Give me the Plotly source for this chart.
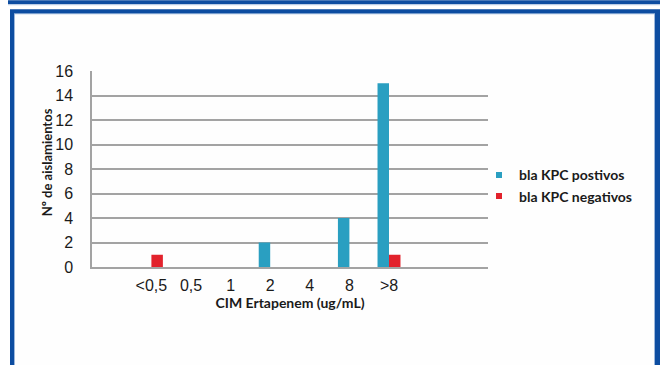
import plotly.graph_objects as go

# MIC categories (ug/mL) and isolate counts per category
cim_labels = ["<0,5", "0,5", "1", "2", "4", "8", ">8"]
kpc_positivos = [0, 0, 0, 2, 0, 4, 15]
kpc_negativos = [1, 0, 0, 0, 0, 0, 1]
y_ticks = [0, 2, 4, 6, 8, 10, 12, 14, 16]

# category slots: one empty slot before and two after the labelled ones
x_pos = [i + 1 for i in range(len(cim_labels))]

BLUE = "#2a9fc1"
RED = "#e2222c"
FRAME = "#0d4da1"
TEXT = "#1a1a1a"

W, H = 664, 365
L, R, T, B = 92, 176, 70.7, 98.3
PW, PH = W - L - R, H - T - B


def px(x):
    return (x - L) / PW


def py(y):
    return (H - B - y) / PH


fig = go.Figure()
fig.add_trace(go.Bar(x=x_pos, y=kpc_positivos, marker_color=BLUE,
                     marker_line_width=0, showlegend=False))
fig.add_trace(go.Bar(x=x_pos, y=kpc_negativos, marker_color=RED,
                     marker_line_width=0, showlegend=False))
# small square legend keys
fig.add_trace(go.Scatter(x=[None], y=[None], mode="markers", name="bla KPC postivos",
                         marker=dict(symbol="square", size=6, color=BLUE)))
fig.add_trace(go.Scatter(x=[None], y=[None], mode="markers", name="bla KPC negativos",
                         marker=dict(symbol="square", size=6, color=RED)))

shapes = [
    # top band
    dict(type="rect", x0=px(8), x1=px(660), y0=py(0), y1=py(4), fillcolor=FRAME),
    dict(type="rect", x0=px(8), x1=px(660), y0=py(4), y1=py(5), fillcolor="#b7cbe6"),
    # frame
    dict(type="rect", x0=px(10), x1=px(660), y0=py(9), y1=py(380), fillcolor=FRAME),
    dict(type="rect", x0=px(14), x1=px(655), y0=py(13), y1=py(380), fillcolor="#9db8dc"),
    dict(type="rect", x0=px(15), x1=px(654), y0=py(14), y1=py(380), fillcolor="#fefefe"),
]
for s in shapes:
    s.update(xref="paper", yref="paper", layer="below", line_width=0)

fig.update_layout(
    width=W, height=H,
    margin=dict(l=L, r=R, t=T, b=B, autoexpand=False),
    paper_bgcolor="white",
    plot_bgcolor="rgba(0,0,0,0)",
    barmode="group", bargap=0.42, bargroupgap=0,
    shapes=shapes,
    font=dict(family="Liberation Sans", color=TEXT),
    legend=dict(x=px(479), y=py(159), xanchor="left", yanchor="top",
                font=dict(family="Lato", size=14, color=TEXT, weight="bold"),
                bgcolor="rgba(0,0,0,0)", tracegroupgap=0, itemwidth=30),
    xaxis=dict(range=[-0.5, 9.5], tickmode="array", tickvals=x_pos, ticktext=cim_labels,
               showgrid=False, zeroline=False, showline=True, linecolor="#a3a3a3",
               linewidth=1.5, ticks="", ticklabelstandoff=3,
               tickfont=dict(family="Liberation Sans", size=16, color=TEXT),
               title=dict(text="CIM Ertapenem (ug/mL)", standoff=5,
                          font=dict(family="Lato", size=14, color=TEXT, weight="bold"))),
    yaxis=dict(range=[0, 16], tickmode="array", tickvals=y_ticks,
               showgrid=True, gridcolor="#a3a3a3", gridwidth=1.5,
               zeroline=False, showline=True, linecolor="#a3a3a3", linewidth=1.5,
               ticks="", ticklabelstandoff=14,
               tickfont=dict(family="Liberation Sans", size=16, color=TEXT)),
    annotations=[dict(text="<b>Nº de aislamientos</b>", textangle=-90,
                      xref="paper", yref="paper", x=px(47), y=py(162),
                      xanchor="center", yanchor="middle", showarrow=False,
                      font=dict(family="Lato", size=13, color=TEXT))],
)

fig.write_html("out.html")
